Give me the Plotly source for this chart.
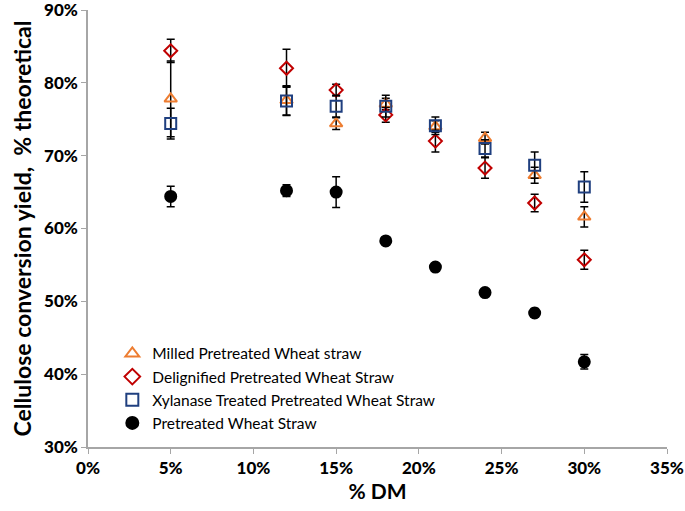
import plotly.graph_objects as go

dm = [5, 12, 15, 18, 21, 24, 27, 30]

milled = [77.8, 77.6, 74.4, 77.1, 74.0, 72.4, 67.3, 61.6]
milled_err = [5.2, 2.0, 0.8, 0.8, 0.8, 0.8, 1.1, 1.4]

delig = [84.4, 82.0, 79.0, 75.6, 72.0, 68.3, 63.5, 55.7]
delig_err = [1.6, 2.6, 0.8, 1.0, 1.5, 1.4, 1.2, 1.3]

xylan = [74.4, 77.5, 76.8, 76.8, 74.1, 71.0, 68.7, 65.7]
xylan_err = [2.1, 2.0, 1.5, 1.5, 1.2, 1.2, 1.8, 2.1]

pretreated = [64.4, 65.2, 65.0, 58.3, 54.7, 51.2, 48.4, 41.7]
pretreated_err = [1.4, 0.8, 2.1, 0.3, 0.5, 0.3, 0.6, 1.0]

names = ["Milled Pretreated Wheat straw",
         "Delignified Pretreated Wheat Straw",
         "Xylanase Treated Pretreated Wheat Straw",
         "Pretreated Wheat Straw"]

xticks = [0, 5, 10, 15, 20, 25, 30, 35]
yticks = [30, 40, 50, 60, 70, 80, 90]

series = [
    (milled, milled_err, "triangle-up-open", "#ED7D31", 11),
    (delig, delig_err, "diamond-open", "#C00000", 10),
    (xylan, xylan_err, "square-open", "#1F3F7F", 11),
    (pretreated, pretreated_err, "circle", "#000000", 11),
]

fig = go.Figure()
for (vals, errs, sym, col, sz), nm in zip(series, names):
    fig.add_trace(go.Scatter(
        x=dm, y=vals, mode="markers", name=nm,
        marker=dict(symbol=sym, color=col, size=sz,
                    line=dict(color=col, width=2)),
        error_y=dict(type="data", array=errs, visible=True,
                     color="#000000", thickness=1.5, width=4),
    ))

font_family = "Lato, 'Open Sans', sans-serif"

fig.update_layout(
    width=685, height=511,
    margin=dict(l=88, r=18, t=10, b=64, autoexpand=False),
    paper_bgcolor="white", plot_bgcolor="white",
    showlegend=True,
    legend=dict(x=0.042, y=0.252, xanchor="left", yanchor="top",
                bgcolor="rgba(0,0,0,0)", font=dict(family=font_family, size=15.5, color="#000"),
                itemsizing="constant", tracegroupgap=0, itemwidth=30),
    font=dict(family=font_family, color="#000"),
)
fig.update_xaxes(
    range=[0, 35], tickvals=xticks, ticktext=[f"{v}%" for v in xticks],
    showgrid=False, zeroline=False, showline=True, linecolor="#A6A6A6", linewidth=1.5,
    ticks="outside", ticklen=5, tickcolor="#A6A6A6", ticklabeloverflow="allow",
    automargin=False,
    tickfont=dict(family=font_family, size=17, color="#000", weight=900),
    title=dict(text="<b>% DM</b>", font=dict(family=font_family, size=21, color="#000"), standoff=6),
)
fig.update_yaxes(
    range=[30, 90], tickvals=yticks, ticktext=[f"{v}%" for v in yticks],
    showgrid=False, zeroline=False, showline=True, linecolor="#A6A6A6", linewidth=1.5,
    ticks="outside", ticklen=5, tickcolor="#A6A6A6", ticklabeloverflow="allow",
    automargin=False,
    tickfont=dict(family=font_family, size=17, color="#000", weight=900),
    title=dict(text="<b>Cellulose conversion yield,  % theoretical</b>",
               font=dict(family=font_family, size=23, color="#000"), standoff=6),
)

fig.write_html("out.html", config={"displayModeBar": False},
               post_script="document.body.style.margin='0';")
